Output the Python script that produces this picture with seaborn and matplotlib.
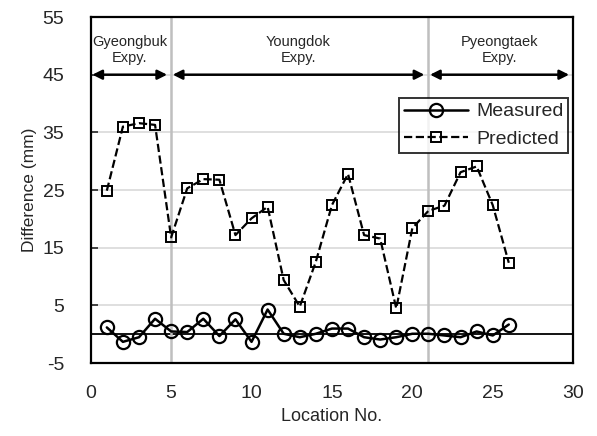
import numpy as np
import pandas as pd
import seaborn as sns
import matplotlib
matplotlib.use('Agg')
import matplotlib.pyplot as plt

# location numbers and differences
location = list(range(1, 27))
measured = [1.2, -1.3, -0.5, 2.7, 0.5, 0.4, 2.7, -0.3, 2.6, -1.3,
            4.3, 0.1, -0.5, 0.1, 1.0, 1.0, -0.5, -0.9, -0.5, 0.1,
            0.1, -0.2, -0.5, 0.5, -0.2, 1.7]
predicted = [24.9, 36.0, 36.6, 36.3, 16.8, 25.3, 26.9, 26.8, 17.2, 20.1,
             22.1, 9.4, 4.8, 12.6, 22.4, 27.8, 17.2, 16.6, 4.5, 18.4,
             21.4, 22.3, 28.1, 29.1, 22.4, 12.4]

# expressway sections
section_names = ['Gyeongbuk\nExpy.', 'Youngdok\nExpy.', 'Pyeongtaek\nExpy.']
section_bounds = [0, 5, 21, 30]

df = pd.DataFrame({'loc': location, 'Measured': measured, 'Predicted': predicted})

sns.set_style('white')
plt.rcParams['font.family'] = ['Liberation Sans', 'DejaVu Sans']
plt.rcParams['axes.unicode_minus'] = False

fig = plt.figure(figsize=(5.97, 4.36), dpi=100)
ax = fig.add_axes([0.152, 0.167, 0.808, 0.794])

# grid lines on y
for yv in [5, 15, 25, 35, 45]:
    ax.axhline(yv, color='#d9d9d9', lw=1.2, zorder=0)
ax.axhline(0, color='black', lw=1.3, zorder=1)

# section dividers
for xb in section_bounds[1:-1]:
    ax.axvline(xb, color='#bfbfbf', lw=1.8, zorder=1)

sns.lineplot(data=df, x='loc', y='Measured', ax=ax, color='black', lw=1.8,
             marker='o', markersize=9.5, markerfacecolor='none',
             markeredgecolor='black', markeredgewidth=1.6, label='Measured', zorder=3)
sns.lineplot(data=df, x='loc', y='Predicted', ax=ax, color='black', lw=1.6,
             linestyle='--', marker='s', markersize=7, markerfacecolor='none',
             markeredgecolor='black', markeredgewidth=1.4, label='Predicted', zorder=3)

# arrows and section names
for i, name in enumerate(section_names):
    a, b = section_bounds[i], section_bounds[i + 1]
    ax.annotate('', xy=(a + 0.1, 45), xytext=(b - 0.25, 45),
                arrowprops=dict(arrowstyle='<|-|>', color='black', lw=1.8,
                                mutation_scale=14, shrinkA=0, shrinkB=0))
    ax.text((a + b) / 2 - 0.1, 49.3, name, ha='center', va='center',
            fontsize=10.5, linespacing=1.25)

ax.set_xlim(0, 30)
ax.set_ylim(-5, 55)
ax.set_xticks(range(0, 31, 5))
ax.set_yticks(range(-5, 56, 10))
ax.tick_params(axis='x', length=0, labelsize=14, pad=16)
ax.tick_params(axis='y', direction='in', length=5, width=1.2, labelsize=14,
               left=True, pad=19)
ax.set_xlabel('Location No.', fontsize=13, labelpad=4)
ax.set_ylabel('Difference (mm)', fontsize=12.5, labelpad=4)
for s in ax.spines.values():
    s.set_color('black')
    s.set_linewidth(1.6)

leg = ax.legend(loc='upper right', bbox_to_anchor=(0.99, 0.766), fontsize=14,
                frameon=True, fancybox=False, edgecolor='black', handlelength=3.3,
                borderpad=0.25, labelspacing=0.5, handletextpad=0.4,
                borderaxespad=0)
leg.get_frame().set_linewidth(1.4)

fig.savefig('out.png', dpi=100)
